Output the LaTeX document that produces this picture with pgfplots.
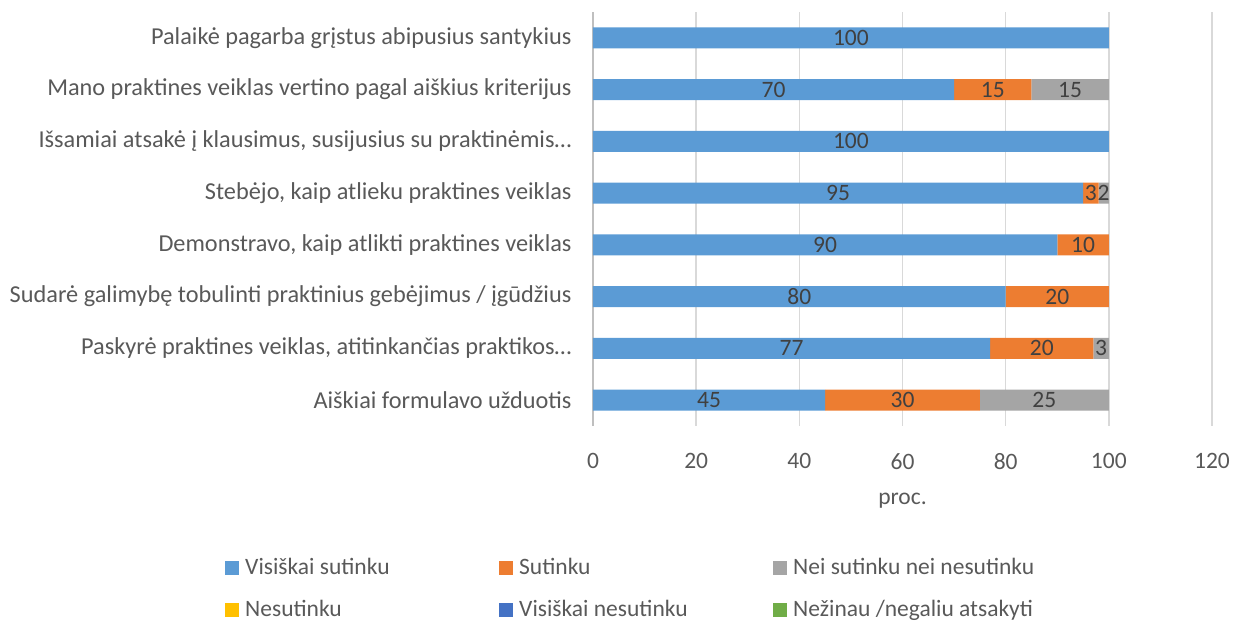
\documentclass[border=0pt]{standalone}
\usepackage{pgfplots}
\pgfplotsset{compat=1.18}
\usepackage{fontspec}
\setmainfont{Carlito}
\definecolor{cBlue}{HTML}{5B9BD5}
\definecolor{cOrange}{HTML}{ED7D31}
\definecolor{cGray}{HTML}{A5A5A5}
\definecolor{cYellow}{HTML}{FFC000}
\definecolor{cDBlue}{HTML}{4472C4}
\definecolor{cGreen}{HTML}{70AD47}
\definecolor{txt}{HTML}{595959}
\definecolor{lbl}{HTML}{404040}
\definecolor{gridc}{HTML}{D9D9D9}
\definecolor{axc}{HTML}{BFBFBF}
\pgfplotsset{sqlegend/.style={legend image code/.code={\fill[##1] (0pt,-7pt) rectangle (14pt,7pt);}}}
\newcommand{\lt}[1]{\makebox[254pt][l]{#1}}
\begin{document}
\begin{tikzpicture}
\path[use as bounding box] (0,0) rectangle (1235pt,624pt);
\begin{axis}[
  at={(593pt,198pt)}, anchor=south west,
  scale only axis, width=619pt, height=414pt,
  xbar stacked, bar width=21pt,
  every axis plot post/.append style={sqlegend},
  xmin=0, xmax=120, ymin=-0.5, ymax=7.5,
  xtick={0,20,...,120},
  ytick={0,1,...,7},
  yticklabels={Aiškiai formulavo užduotis,
    {Paskyrė praktines veiklas, atitinkančias praktikos…},
    Sudarė galimybę tobulinti praktinius gebėjimus / įgūdžius,
    {Demonstravo, kaip atlikti praktines veiklas},
    {Stebėjo, kaip atlieku praktines veiklas},
    {Išsamiai atsakė į klausimus, susijusius su praktinėmis…},
    Mano praktines veiklas vertino pagal aiškius kriterijus,
    Palaikė pagarba grįstus abipusius santykius},
  separate axis lines,
  axis lines=left,
  axis line style={-},
  x axis line style={draw=none},
  y axis line style={draw=axc, line width=1.5pt},
  major tick length=0pt,
  xmajorgrids,
  major grid style={draw=gridc, line width=1.5pt},
  /pgf/number format/assume math mode=true,
  ticklabel style={font=\fontsize{23.5}{28}\selectfont, text=txt},
  xticklabel style={yshift=-24pt},
  yticklabel style={xshift=-18pt, font=\fontsize{24.3}{29}\selectfont},
  xlabel={proc.},
  xlabel style={font=\fontsize{23.5}{28}\selectfont, text=txt, at={(axis description cs:0.5,-0.1812)}, anchor=center},
  nodes near coords={\pgfmathfloatifflags{\pgfplotspointmeta}{0}{}{\pgfmathprintnumber{\pgfplotspointmeta}}},
  every node near coord/.append style={font=\fontsize{23.5}{28}\selectfont, text=lbl, anchor=center, inner sep=0pt},
  legend columns=3,
  legend style={draw=none, fill=none, inner sep=0pt, at={(axis description cs:-0.5945,-0.3164)}, anchor=north west,
    font=\fontsize{23.5}{28}\selectfont, text=txt, row sep=20pt,
    nodes={inner sep=0pt, anchor=west, text height=17pt, text depth=5pt},
    /tikz/every odd column/.append style={column sep=6pt}},
  legend cell align=left,
]
\addplot[fill=cBlue, draw=none] coordinates {(45,0) (77,1) (80,2) (90,3) (95,4) (100,5) (70,6) (100,7)};
\addlegendentry{\lt{Visiškai sutinku}}
\addplot[fill=cOrange, draw=none] coordinates {(30,0) (20,1) (20,2) (10,3) (3,4) (0,5) (15,6) (0,7)};
\addlegendentry{\lt{Sutinku}}
\addplot[fill=cGray, draw=none] coordinates {(25,0) (3,1) (0,2) (0,3) (2,4) (0,5) (15,6) (0,7)};
\addlegendentry{\lt{Nei sutinku nei nesutinku}}
\addlegendimage{sqlegend, fill=cYellow, draw=none}
\addlegendentry{\lt{Nesutinku}}
\addlegendimage{sqlegend, fill=cDBlue, draw=none}
\addlegendentry{\lt{Visiškai nesutinku}}
\addlegendimage{sqlegend, fill=cGreen, draw=none}
\addlegendentry{\lt{Nežinau /negaliu atsakyti}}
\end{axis}
\end{tikzpicture}
\end{document}
